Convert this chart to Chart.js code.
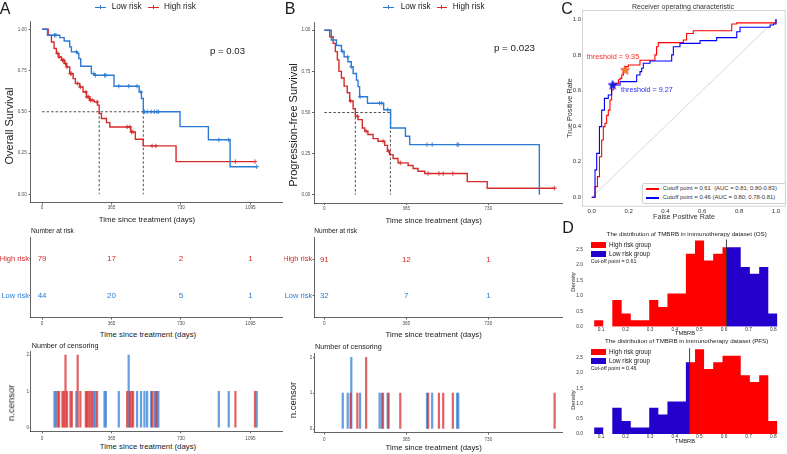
<!DOCTYPE html>
<html>
<head>
<meta charset="utf-8">
<title>TMBRB risk groups: survival, ROC and distribution</title>
<script src="https://cdn.jsdelivr.net/npm/chart.js"></script>
<style>
  body { margin: 0; background: #fff; }
  #page { position: relative; width: 787px; height: 454px; overflow: hidden; font-family: "Liberation Sans", Arial, sans-serif; color: #1a1a1a; }
  .plot { position: absolute; }
  .t { position: absolute; white-space: nowrap; line-height: 1; }
  .c { transform: translate(-50%, -50%); }
  .l { transform: translate(0, -50%); }
  .v { transform: translate(-50%, -50%) rotate(-90deg); }
  .seg { position: absolute; }
</style>
</head>
<body>
<div id="page">
  <!-- A -->
  <div class="plot" style="left:0;top:15px;width:285px;height:197px"><canvas id="osKm"></canvas></div>
  <div class="plot" style="left:0;top:232px;width:285px;height:96px"><canvas id="osRisk"></canvas></div>
  <div class="plot" style="left:0;top:345px;width:285px;height:97px"><canvas id="osCens"></canvas></div>
  <!-- B -->
  <div class="plot" style="left:284px;top:15px;width:280px;height:197px"><canvas id="pfsKm"></canvas></div>
  <div class="plot" style="left:284px;top:232px;width:280px;height:96px"><canvas id="pfsRisk"></canvas></div>
  <div class="plot" style="left:284px;top:345px;width:280px;height:97px"><canvas id="pfsCens"></canvas></div>
  <!-- C -->
  <div class="plot" style="left:560px;top:0;width:227px;height:216px"><canvas id="roc"></canvas></div>
  <!-- D -->
  <div class="plot" style="left:560px;top:230px;width:227px;height:103px"><canvas id="histOs"></canvas></div>
  <div class="plot" style="left:560px;top:340px;width:227px;height:101px"><canvas id="histPfs"></canvas></div>

  <div class="t c" style="left:5px;top:9px;font-size:16px">A</div>
  <div class="t c" style="left:290px;top:9px;font-size:16px">B</div>
  <div class="t c" style="left:567px;top:9px;font-size:16px">C</div>
  <div class="t c" style="left:568px;top:228px;font-size:16px">D</div>

  <!-- survival legends -->
  <div class="seg" style="left:95px;top:6.6px;width:11px;height:1.4px;background:#2b7bd5"></div>
  <div class="seg" style="left:100px;top:5.3px;width:1px;height:4px;background:#2b7bd5"></div>
  <div class="t l" style="left:111.7px;top:7.3px;font-size:8.2px">Low risk</div>
  <div class="seg" style="left:148px;top:6.6px;width:11px;height:1.4px;background:#d62a2b"></div>
  <div class="seg" style="left:153px;top:5.3px;width:1px;height:4px;background:#d62a2b"></div>
  <div class="t l" style="left:164px;top:7.3px;font-size:8.2px">High risk</div>

  <div class="seg" style="left:383px;top:6.6px;width:11px;height:1.4px;background:#2b7bd5"></div>
  <div class="seg" style="left:388px;top:5.3px;width:1px;height:4px;background:#2b7bd5"></div>
  <div class="t l" style="left:400.7px;top:7.3px;font-size:8.2px">Low risk</div>
  <div class="seg" style="left:436.7px;top:6.6px;width:10px;height:1.4px;background:#d62a2b"></div>
  <div class="seg" style="left:441.2px;top:5.3px;width:1px;height:4px;background:#d62a2b"></div>
  <div class="t l" style="left:452.7px;top:7.3px;font-size:8.2px">High risk</div>

  <div class="t c" style="left:227.5px;top:51px;font-size:9.6px">p = 0.03</div>
  <div class="t c" style="left:514.5px;top:47.5px;font-size:9.8px">p = 0.023</div>

  <div class="t v" style="left:8.7px;top:126px;font-size:11px">Overall Survival</div>
  <div class="t v" style="left:293px;top:125px;font-size:11px">Progression-free Survival</div>

  <div class="t c" style="left:147px;top:220px;font-size:7.8px">Time since treatment (days)</div>
  <div class="t c" style="left:433.7px;top:220.7px;font-size:7.8px">Time since treatment (days)</div>
  <div class="t l" style="left:31px;top:230.7px;font-size:6.6px">Number at risk</div>
  <div class="t l" style="left:314.3px;top:230.7px;font-size:6.6px">Number at risk</div>
  <div class="t c" style="left:148px;top:335px;font-size:7.8px">Time since treatment (days)</div>
  <div class="t c" style="left:433.7px;top:335px;font-size:7.8px">Time since treatment (days)</div>
  <div class="t l" style="left:31.7px;top:345.7px;font-size:7.2px">Number of censoring</div>
  <div class="t l" style="left:315px;top:346.7px;font-size:7.2px">Number of censoring</div>
  <div class="t v" style="left:11px;top:402.5px;font-size:9.5px">n.censor</div>
  <div class="t v" style="left:293px;top:400px;font-size:9.5px">n.censor</div>
  <div class="t c" style="left:148px;top:447.3px;font-size:7.8px">Time since treatment (days)</div>
  <div class="t c" style="left:433.7px;top:448.3px;font-size:7.8px">Time since treatment (days)</div>

  <!-- ROC texts -->
  <div class="t c" style="left:683px;top:5.5px;font-size:7px;color:#333">Receiver operating characteristic</div>
  <div class="t v" style="left:570px;top:108px;font-size:7.3px;color:#333">True Positive Rate</div>
  <div class="t c" style="left:684px;top:217.3px;font-size:7.2px;color:#333">False Positive Rate</div>
  <div class="t l" style="left:586.7px;top:57.3px;font-size:7.3px;color:#ff2a2a">threshold = 9.35</div>
  <div class="t l" style="left:621px;top:90px;font-size:7.2px;color:#2a2aff">threshold = 9.27</div>
  <div class="seg" style="left:641.7px;top:182.7px;width:142.3px;height:19px;background:#fff;border:0.8px solid #d0d0d0;border-radius:2px"></div>
  <div class="seg" style="left:646px;top:188.4px;width:13.3px;height:1.2px;background:#ff0000"></div>
  <div class="seg" style="left:646px;top:197.4px;width:13.3px;height:1.2px;background:#0000ff"></div>
  <div class="t l" style="left:662.7px;top:189px;font-size:5.9px;color:#333">Cutoff point = 0.61&nbsp; (AUC = 0.81; 0.80-0.83)</div>
  <div class="t l" style="left:662.7px;top:198px;font-size:5.9px;color:#333">Cutoff point = 0.46 (AUC = 0.80; 0.78-0.81)</div>

  <!-- histogram texts -->
  <div class="t c" style="left:686.7px;top:234px;font-size:6.2px">The distribution of TMBRB in immunotherapy dataset (OS)</div>
  <div class="t c" style="left:685px;top:334px;font-size:5.7px">TMBRB</div>
  <div class="t v" style="left:574px;top:281.7px;font-size:5.8px">Density</div>
  <div class="seg" style="left:591px;top:242.3px;width:14.7px;height:6px;background:#ff0000"></div>
  <div class="seg" style="left:591px;top:251px;width:14.7px;height:5.7px;background:#2400cc"></div>
  <div class="t l" style="left:609px;top:245.3px;font-size:6.3px">High risk group</div>
  <div class="t l" style="left:609px;top:253.8px;font-size:6.3px">Low risk group</div>
  <div class="t l" style="left:590.7px;top:262.3px;font-size:5.4px">Cut-off point = 0.61</div>

  <div class="t c" style="left:686.7px;top:341px;font-size:6.2px">The distribution of TMBRB in immunotherapy dataset (PFS)</div>
  <div class="t c" style="left:685px;top:442.3px;font-size:5.7px">TMBRB</div>
  <div class="t v" style="left:574px;top:400px;font-size:5.8px">Density</div>
  <div class="seg" style="left:591px;top:349px;width:14.7px;height:6.4px;background:#ff0000"></div>
  <div class="seg" style="left:591px;top:357.7px;width:14.7px;height:6.4px;background:#2400cc"></div>
  <div class="t l" style="left:609px;top:352.3px;font-size:6.3px">High risk group</div>
  <div class="t l" style="left:609px;top:361px;font-size:6.3px">Low risk group</div>
  <div class="t l" style="left:590.7px;top:369.3px;font-size:5.4px">Cut-off point = 0.46</div>
</div>

<script>
  // ---------- data ----------
  const osTimeTicks = [0, 365, 730, 1095];
  const pfsTimeTicks = [0, 365, 730];
  const survTicks = [0, 0.25, 0.5, 0.75, 1];
  const censorTicks = [0, 1, 2];

  // overall survival, Kaplan-Meier steps (day, survival after the step)
  const osLowTime = [0, 28, 93, 116, 145, 154, 186, 193, 203, 259, 273, 378, 510, 522, 532, 725, 874, 988, 1128];
  const osLowSurv = [1, 0.964, 0.949, 0.929, 0.893, 0.863, 0.853, 0.822, 0.776, 0.731, 0.721, 0.655, 0.62, 0.58, 0.5, 0.41, 0.33, 0.167, 0.167];
  const osHighTime = [0, 32, 49, 63, 75, 88, 102, 116, 128, 145, 163, 175, 198, 215, 233, 250, 273, 291, 300, 312, 338, 356, 466, 490, 531, 704, 1119];
  const osHighSurv = [1, 0.964, 0.923, 0.883, 0.853, 0.832, 0.812, 0.792, 0.772, 0.731, 0.701, 0.671, 0.65, 0.62, 0.59, 0.57, 0.56, 0.54, 0.489, 0.459, 0.434, 0.408, 0.378, 0.333, 0.293, 0.198, 0.198];
  const osLowCensorTime = [65, 72, 180, 272, 280, 328, 335, 403, 455, 499, 520, 538, 552, 573, 590, 604, 611, 929, 981, 1128];
  const osLowCensorCount = [1, 1, 1, 1, 1, 1, 1, 1, 2, 1, 1, 1, 1, 1, 1, 1, 1, 1, 1, 1];
  const osHighCensorTime = [82, 89, 107, 114, 123, 131, 149, 156, 187, 201, 230, 236, 245, 254, 263, 289, 447, 461, 470, 478, 578, 598, 1016, 1119];
  const osHighCensorCount = [1, 1, 1, 1, 2, 1, 1, 1, 2, 1, 1, 1, 1, 1, 1, 1, 1, 1, 1, 1, 1, 1, 1, 1];
  const osMedian = [300, 532];
  const osRiskHigh = [79, 17, 2, 1];
  const osRiskLow = [44, 20, 5, 1];

  // progression-free survival
  const pfsLowTime = [0, 31, 54, 76, 88, 105, 120, 128, 143, 150, 157, 192, 264, 295, 361, 380, 957];
  const pfsLowSurv = [1, 0.941, 0.907, 0.871, 0.838, 0.808, 0.778, 0.737, 0.697, 0.657, 0.596, 0.556, 0.517, 0.406, 0.356, 0.305, 0];
  const pfsHighTime = [0, 24, 39, 49, 58, 65, 76, 88, 102, 113, 128, 138, 150, 169, 180, 194, 217, 239, 269, 281, 291, 306, 328, 373, 395, 417, 447, 636, 725, 1025];
  const pfsHighSurv = [1, 0.96, 0.92, 0.87, 0.82, 0.75, 0.71, 0.66, 0.62, 0.57, 0.523, 0.477, 0.457, 0.406, 0.386, 0.366, 0.341, 0.325, 0.3, 0.265, 0.244, 0.22, 0.194, 0.178, 0.16, 0.143, 0.129, 0.08, 0.04, 0.04];
  const pfsLowCensorTime = [82, 104, 120, 159, 246, 256, 282, 457, 480, 591, 596];
  const pfsLowCensorCount = [1, 1, 2, 1, 1, 1, 1, 1, 1, 1, 1];
  const pfsHighCensorTime = [117, 147, 186, 261, 286, 338, 462, 510, 529, 572, 1025];
  const pfsHighCensorCount = [1, 1, 2, 1, 1, 1, 1, 1, 1, 1, 1];
  const pfsMedian = [138, 294];
  const pfsRiskHigh = [91, 12, 1];
  const pfsRiskLow = [32, 7, 1];

  // ROC curves
  const rocTicks = [0, 0.2, 0.4, 0.6, 0.8, 1];
  const rocRedFpr = [0, 0.018, 0.031, 0.042, 0.054, 0.063, 0.072, 0.081, 0.09, 0.099, 0.108, 0.117, 0.126, 0.145, 0.154, 0.163, 0.172, 0.181, 0.199, 0.262, 0.343, 0.352, 0.361, 0.497, 0.515, 0.551, 0.76, 0.787, 1];
  const rocRedTpr = [0, 0.06, 0.116, 0.228, 0.322, 0.397, 0.416, 0.46, 0.49, 0.547, 0.603, 0.631, 0.64, 0.66, 0.668, 0.687, 0.715, 0.734, 0.743, 0.77, 0.8, 0.846, 0.869, 0.884, 0.92, 0.936, 0.974, 0.98, 1];
  const rocBlueFpr = [0, 0.009, 0.018, 0.027, 0.042, 0.054, 0.069, 0.09, 0.108, 0.114, 0.154, 0.235, 0.244, 0.262, 0.271, 0.28, 0.316, 0.434, 0.443, 0.479, 0.588, 0.678, 0.787, 0.805, 0.968, 0.986, 1];
  const rocBlueTpr = [0, 0, 0.154, 0.247, 0.397, 0.49, 0.556, 0.575, 0.63, 0.631, 0.65, 0.65, 0.687, 0.706, 0.725, 0.753, 0.766, 0.8, 0.846, 0.865, 0.88, 0.897, 0.93, 0.955, 0.968, 0.974, 1];
  const rocStarFpr = [0.181, 0.114];
  const rocStarTpr = [0.715, 0.631];

  // TMBRB histogram (density per bin)
  const binEdges = [0.072, 0.109, 0.146, 0.184, 0.221, 0.258, 0.296, 0.333, 0.370, 0.407, 0.445, 0.482, 0.519, 0.556, 0.594, 0.631, 0.668, 0.705, 0.743, 0.780, 0.817];
  const binDensity = [0.21, 0, 0.86, 0.43, 0.21, 0.21, 0.86, 0.64, 1.07, 1.07, 2.36, 2.79, 2.14, 2.36, 2.57, 2.57, 1.93, 1.71, 1.93, 0.43];
  const osCutoff = 0.61;
  const pfsCutoff = 0.46;
  const cutLineTop = 2.82;
  const histXTicks = [0.1, 0.2, 0.3, 0.4, 0.5, 0.6, 0.7, 0.8];
  const histYTicks = [0, 0.5, 1, 1.5, 2, 2.5];

  // ---------- drawing ----------
  const RED = '#d62a2b', BLUE = '#2b7bd5', AXIS = '#3c3c3c';
  const HRED = '#ff0000', HBLUE = '#2400cc';
  Chart.defaults.font.family = '"Liberation Sans", Arial, sans-serif';
  Chart.defaults.color = '#333';

  const pts = (xs, ys) => xs.map((x, i) => ({x: x, y: ys[i]}));

  function survAt(ts, ss, t) {
    let s = ss[0];
    for (let i = 0; i < ts.length; i++) if (ts[i] <= t) s = ss[i];
    return s;
  }

  function histPts(lo, hi) {
    const out = [];
    let last = 0, end = lo;
    for (let i = 0; i < binDensity.length; i++) {
      const a = Math.max(binEdges[i], lo), b = Math.min(binEdges[i + 1], hi);
      if (b <= a) continue;
      if (!out.length) out.push({x: a, y: 0});
      out.push({x: a, y: binDensity[i]});
      last = binDensity[i];
      end = b;
    }
    out.push({x: end, y: last}, {x: end, y: 0});
    return out;
  }

  function axis(min, max, ticks, fmt, size, o) {
    o = o || {};
    const tick = o.tick == null ? 2 : o.tick;
    return {
      type: 'linear', min: min, max: max, offset: false,
      afterBuildTicks: s => { s.ticks = ticks.map(v => ({value: v})); },
      afterFit: s => { if (s.isHorizontal()) s.height = size; else s.width = size; },
      border: {display: o.border !== false, color: o.borderColor || AXIS, width: 0.8},
      grid: {display: true, drawOnChartArea: false, offset: false, drawTicks: tick > 0, tickLength: tick, tickColor: AXIS, tickWidth: 0.8},
      ticks: {autoSkip: false, maxRotation: 0, padding: o.pad == null ? 1 : o.pad,
              font: {size: o.font || 4.6}, color: o.color || '#4d4d4d', callback: fmt}
    };
  }

  function baseOptions(pad, scales) {
    return {
      responsive: true, maintainAspectRatio: false, animation: false, events: [],
      layout: {padding: pad, autoPadding: false},
      plugins: {legend: {display: false}, tooltip: {enabled: false}},
      elements: {line: {tension: 0}, point: {radius: 0}},
      scales: scales
    };
  }

  function dashed(a, b) {
    return {data: [a, b], borderColor: '#222', borderWidth: 0.8, borderDash: [2.5, 2], pointRadius: 0, fill: false};
  }

  function kmChart(id, xMin, xMax, xTicks, lowT, lowS, highT, highS, lowC, highC, med, yW, xH, pad, yPad) {
    const marks = (cs, ts, ss) => cs.map(t => ({x: t, y: survAt(ts, ss, t)}));
    new Chart(document.getElementById(id), {
      type: 'line',
      data: {datasets: [
        {data: marks(lowC, lowT, lowS), showLine: false, pointStyle: 'cross', pointRadius: 2.2, borderColor: BLUE, borderWidth: 0.9},
        {data: marks(highC, highT, highS), showLine: false, pointStyle: 'cross', pointRadius: 2.2, borderColor: RED, borderWidth: 0.9},
        {data: pts(lowT, lowS), borderColor: BLUE, borderWidth: 1.4, stepped: true, pointRadius: 0, fill: false},
        {data: pts(highT, highS), borderColor: RED, borderWidth: 1.4, stepped: true, pointRadius: 0, fill: false},
        dashed({x: 0, y: 0.5}, {x: Math.max(med[0], med[1]), y: 0.5}),
        dashed({x: med[0], y: 0.5}, {x: med[0], y: 0}),
        dashed({x: med[1], y: 0.5}, {x: med[1], y: 0})
      ]},
      options: baseOptions(pad, {
        x: axis(xMin, xMax, xTicks, v => String(v), xH, {pad: 0.5}),
        y: axis(-0.05, 1.05, survTicks, v => v.toFixed(2), yW, {pad: yPad})
      })
    });
  }

  const riskText = {
    id: 'riskText',
    afterDatasetsDraw(chart, args, opts) {
      const ctx = chart.ctx, x = chart.scales.x, y = chart.scales.y;
      ctx.save();
      ctx.font = '8px "Liberation Sans", Arial, sans-serif';
      ctx.textAlign = 'center';
      ctx.textBaseline = 'middle';
      opts.rows.forEach(r => {
        ctx.fillStyle = r.color;
        r.values.forEach((v, i) => ctx.fillText(String(v), x.getPixelForValue(opts.times[i]), y.getPixelForValue(r.level)));
      });
      ctx.restore();
    }
  };

  function riskChart(id, xMin, xMax, xTicks, high, low, yW, xH, pad) {
    const opts = baseOptions(pad, {
      x: axis(xMin, xMax, xTicks, v => String(v), xH, {pad: 1}),
      y: axis(0.4, 2.6, [1, 2], v => (v === 2 ? 'High risk' : 'Low risk'), yW,
              {tick: 1.5, pad: 0.3, font: 7.5, color: c => (c.tick && c.tick.value === 2 ? RED : BLUE)})
    });
    opts.plugins.riskText = {times: xTicks, rows: [{level: 2, values: high, color: RED}, {level: 1, values: low, color: BLUE}]};
    new Chart(document.getElementById(id), {
      type: 'line', data: {datasets: [{data: []}]}, options: opts, plugins: [riskText]
    });
  }

  function censorChart(id, xMin, xMax, xTicks, lowC, lowN, highC, highN, yW, xH, pad) {
    new Chart(document.getElementById(id), {
      type: 'bar',
      data: {datasets: [
        {data: pts(highC, highN), backgroundColor: 'rgba(214,42,43,0.72)', barThickness: 1.6, grouped: false},
        {data: pts(lowC, lowN), backgroundColor: 'rgba(43,123,213,0.72)', barThickness: 1.6, grouped: false}
      ]},
      options: baseOptions(pad, {
        x: axis(xMin, xMax, xTicks, v => String(v), xH, {pad: 2.5}),
        y: axis(-0.1, 2.1, censorTicks, v => String(v), yW, {tick: 1, pad: 0.6})
      })
    });
  }

  function starImg(fill, edge) {
    const c = document.createElement('canvas');
    c.width = 11; c.height = 11;
    const g = c.getContext('2d');
    g.beginPath();
    for (let i = 0; i < 10; i++) {
      const r = i % 2 ? 2 : 4.8, a = -Math.PI / 2 + i * Math.PI / 5;
      g.lineTo(5.5 + r * Math.cos(a), 5.7 + r * Math.sin(a));
    }
    g.closePath();
    g.fillStyle = fill; g.fill();
    g.strokeStyle = edge; g.lineWidth = 0.7; g.stroke();
    return c;
  }

  const frame = {
    id: 'frame',
    afterDraw(chart) {
      const a = chart.chartArea, ctx = chart.ctx;
      ctx.save();
      ctx.strokeStyle = '#c8c8c8';
      ctx.lineWidth = 0.8;
      ctx.strokeRect(a.left, a.top, a.right - a.left, a.bottom - a.top);
      ctx.restore();
    }
  };

  function histChart(id, cut, lowColor, highColor, pad, xH) {
    new Chart(document.getElementById(id), {
      type: 'line',
      data: {datasets: [
        {data: [{x: cut, y: 0}, {x: cut, y: cutLineTop}], borderColor: '#111', borderWidth: 0.8, pointRadius: 0, fill: false},
        {data: histPts(binEdges[0], cut), stepped: true, fill: 'origin', backgroundColor: lowColor, borderColor: 'rgba(0,0,0,0)', pointRadius: 0},
        {data: histPts(cut, binEdges[binEdges.length - 1]), stepped: true, fill: 'origin', backgroundColor: highColor, borderColor: 'rgba(0,0,0,0)', pointRadius: 0}
      ]},
      options: baseOptions(pad, {
        x: axis(0.035, 0.854, histXTicks, v => v.toFixed(1), xH, {tick: 0, pad: 0, border: false, font: 4.8, color: '#333'}),
        y: axis(0, 2.93, histYTicks, v => v.toFixed(1), 25, {tick: 0, pad: 2, border: false, font: 4.8, color: '#333'})
      })
    });
  }

  // A: overall survival
  kmChart('osKm', -60, 1263, osTimeTicks, osLowTime, osLowSurv, osHighTime, osHighSurv,
          osLowCensorTime, osHighCensorTime, osMedian, 30.7, 9.5, {top: 6, right: 2.6, left: 0, bottom: 0}, 2);
  riskChart('osRisk', -60, 1263, osTimeTicks, osRiskHigh, osRiskLow, 30.7, 10.5, {top: 5, right: 2.6, left: 0, bottom: 0});
  censorChart('osCens', -60, 1263, osTimeTicks, osLowCensorTime, osLowCensorCount, osHighCensorTime, osHighCensorCount,
              30.7, 10.7, {top: 6.4, right: 2.6, left: 0, bottom: 0});

  // B: progression-free survival
  kmChart('pfsKm', -46, 1060, pfsTimeTicks, pfsLowTime, pfsLowSurv, pfsHighTime, pfsHighSurv,
          pfsLowCensorTime, pfsHighCensorTime, pfsMedian, 30, 9, {top: 7, right: 1.5, left: 0, bottom: 0}, 1.6);
  riskChart('pfsRisk', -46, 1060, pfsTimeTicks, pfsRiskHigh, pfsRiskLow, 30, 10.5, {top: 5.5, right: 1.5, left: 0, bottom: 0});
  censorChart('pfsCens', -46, 1060, pfsTimeTicks, pfsLowCensorTime, pfsLowCensorCount, pfsHighCensorTime, pfsHighCensorCount,
              30, 9.4, {top: 8.7, right: 1.5, left: 0, bottom: 0});

  // C: ROC
  new Chart(document.getElementById('roc'), {
    type: 'line',
    data: {datasets: [
      {data: [{x: rocStarFpr[0], y: rocStarTpr[0]}], showLine: false, pointStyle: starImg('#ff8a1e', '#e5231b'), pointRadius: 4},
      {data: [{x: rocStarFpr[1], y: rocStarTpr[1]}], showLine: false, pointStyle: starImg('#2323d8', '#0000ee'), pointRadius: 4},
      {data: pts(rocBlueFpr, rocBlueTpr), borderColor: '#0000ff', borderWidth: 1.1, stepped: true, pointRadius: 0, fill: false},
      {data: pts(rocRedFpr, rocRedTpr), borderColor: '#ff0000', borderWidth: 1.1, stepped: true, pointRadius: 0, fill: false},
      {data: [{x: 0, y: 0}, {x: 1, y: 1}], borderColor: '#bdbdbd', borderWidth: 0.6, pointRadius: 0, fill: false}
    ]},
    options: baseOptions({top: 10.4, right: 1.8, left: 0, bottom: 0}, {
      x: axis(-0.05, 1.05, rocTicks, v => v.toFixed(1), 9.8, {tick: 0, pad: 2, border: false, font: 6, color: '#333'}),
      y: axis(-0.05, 1.05, rocTicks, v => v.toFixed(1), 22.5, {tick: 0, pad: 1.5, border: false, font: 6, color: '#333'})
    }),
    plugins: [frame]
  });

  // D: TMBRB distributions
  histChart('histOs', osCutoff, HRED, HBLUE, {top: 6.1, right: 0.5, left: 0, bottom: 0}, 6.3);
  histChart('histPfs', pfsCutoff, HBLUE, HRED, {top: 4.6, right: 0.5, left: 0, bottom: 0}, 7);
</script>
</body>
</html>
